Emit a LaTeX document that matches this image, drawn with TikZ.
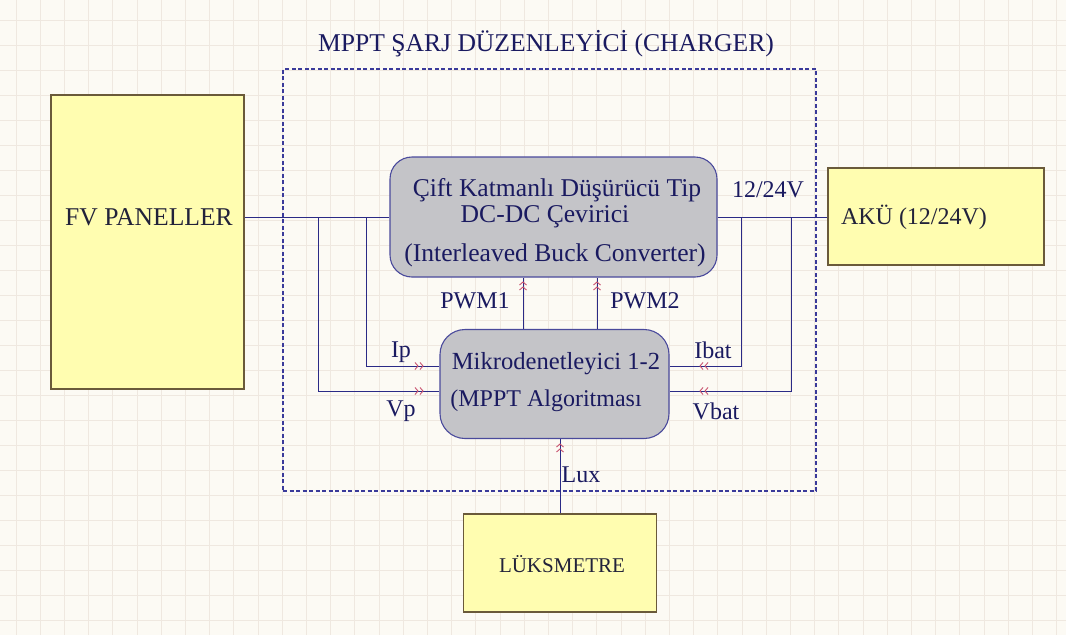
\documentclass[tikz,border=0pt]{standalone}
\usepackage{fontspec}
\setmainfont{Liberation Serif}
\usetikzlibrary{calc}
\definecolor{bgc}{HTML}{FCFAF4}
\definecolor{gridc}{HTML}{EFE8E0}
\definecolor{wirec}{HTML}{2A2A86}
\definecolor{txtc}{HTML}{1A1A60}
\definecolor{darktxt}{HTML}{22223A}
\definecolor{yfill}{HTML}{FFFDB0}
\definecolor{ybord}{HTML}{6A5A3A}
\definecolor{gfill}{HTML}{C4C4C8}
\definecolor{gbord}{HTML}{4A4A9C}
\definecolor{chevc}{HTML}{C8506E}
\definecolor{dashc}{HTML}{3A3A9A}
\tikzset{
  ybox/.style={draw=ybord, fill=yfill, line width=1.1pt, inner sep=0pt},
  gbox/.style={draw=gbord, fill=gfill, line width=1.1pt, inner sep=0pt},
  wire/.style={draw=wirec, line width=1pt},
  lbl/.style={text=txtc, inner sep=0pt, font=\fontsize{24}{28}\selectfont},
  big/.style={font=\fontsize{25.6}{30}\selectfont},
  dlbl/.style={text=darktxt, inner sep=0pt, font=\fontsize{24}{28}\selectfont},
  chev/.pic={\draw[chevc, line width=0.9pt] (-5,-3.5) -- (-2,0) -- (-5,3.5) (0,-3.5) -- (3,0) -- (0,3.5);}
}
\begin{document}
\begin{tikzpicture}[x=1pt,y=-1pt]
\useasboundingbox (0,0) rectangle (1066,635);
\fill[bgc] (0,0) rectangle (1066,635);
\foreach \i in {0,...,43} \draw[gridc, line width=0.9pt] ({16+24.2*\i},0) -- ++(0,635);
\foreach \j in {0,...,25} \draw[gridc, line width=0.9pt] (0,{20+25*\j}) -- ++(1066,0);

% dashed charger frame
\node[draw=dashc, dash pattern=on 4pt off 2.5pt, line width=1.1pt, minimum width=533pt, minimum height=422pt, inner sep=0pt] (frame) at (549.5,280) {};
\node[lbl, big] (title) at (546,44) {MPPT ŞARJ DÜZENLEYİCİ (CHARGER)};

% boxes
\node[ybox, minimum width=193pt, minimum height=294pt] (fv) at (147.5,242) {};
\node[dlbl, big] (fvt) at (149,217) {FV PANELLER};
\node[ybox, minimum width=216pt, minimum height=97pt] (aku) at (936,216.5) {};
\node[dlbl] (akut) at (914,217) {AKÜ (12/24V)};
\node[ybox, minimum width=193pt, minimum height=98pt] (luks) at (560,563) {};
\node[dlbl, font=\fontsize{21}{25}\selectfont] (lukst) at (562,564) {LÜKSMETRE};

\node[gbox, rounded corners=22pt, minimum width=327pt, minimum height=120pt] (conv) at (553.5,217) {};
\node[lbl, big] (c1) at (557,190) {Çift Katmanlı Düşürücü Tip};
\node[lbl, big] (c2) at (545,217) {DC-DC Çevirici};
\node[lbl, big] (c3) at (555,255) {(Interleaved Buck Converter)};

\node[gbox, rounded corners=25pt, minimum width=229pt, minimum height=109pt] (micro) at (554.5,384) {};
\node[lbl, font=\fontsize{24.6}{28}\selectfont] (m1) at (556,364) {Mikrodenetleyici 1-2};
\node[lbl] (m2) at (546,401) {(MPPT Algoritması};

% junctions
\coordinate (jVp) at (318,217);
\coordinate (jIp) at (366,217);
\coordinate (jIb) at (741,217);
\coordinate (jVb) at (791,217);
\coordinate (pw1) at (523,0);
\coordinate (pw2) at (597,0);

% wires
\draw[wire] (conv.west -| fv.east) -- (conv.west);
\draw[wire] (conv.east) -- (conv.east -| aku.west);
\draw[wire] (jIp) |- ($(micro.west)+(0,-18)$);
\draw[wire] (jVp) |- ($(micro.west)+(0,7)$);
\draw[wire] (jIb) |- ($(micro.east)+(0,-18)$);
\draw[wire] (jVb) |- ($(micro.east)+(0,7)$);
\draw[wire] (micro.north -| pw1) -- (conv.south -| pw1);
\draw[wire] (micro.north -| pw2) -- (conv.south -| pw2);
\draw[wire] (luks.north) -- (luks.north |- micro.south);

% chevron markers
\pic at (420,366) {chev};
\pic at (420,391) {chev};
\pic[rotate=180] at (703,366) {chev};
\pic[rotate=180] at (703,391) {chev};
\pic[rotate=90] at (523,285) {chev};
\pic[rotate=90] at (597,285) {chev};
\pic[rotate=90] at (560,447) {chev};

% labels
\node[lbl] (l1) at (768,190) {12/24V};
\node[lbl] (lp1) at (475,301) {PWM1};
\node[lbl] (lp2) at (645,301) {PWM2};
\node[lbl] (lip) at (401,352) {Ip};
\node[lbl] (lvp) at (401,411) {Vp};
\node[lbl] (lib) at (713,350) {Ibat};
\node[lbl] (lvb) at (716,411) {Vbat};
\node[lbl] (llux) at (581,475) {Lux};
\end{tikzpicture}
\end{document}
